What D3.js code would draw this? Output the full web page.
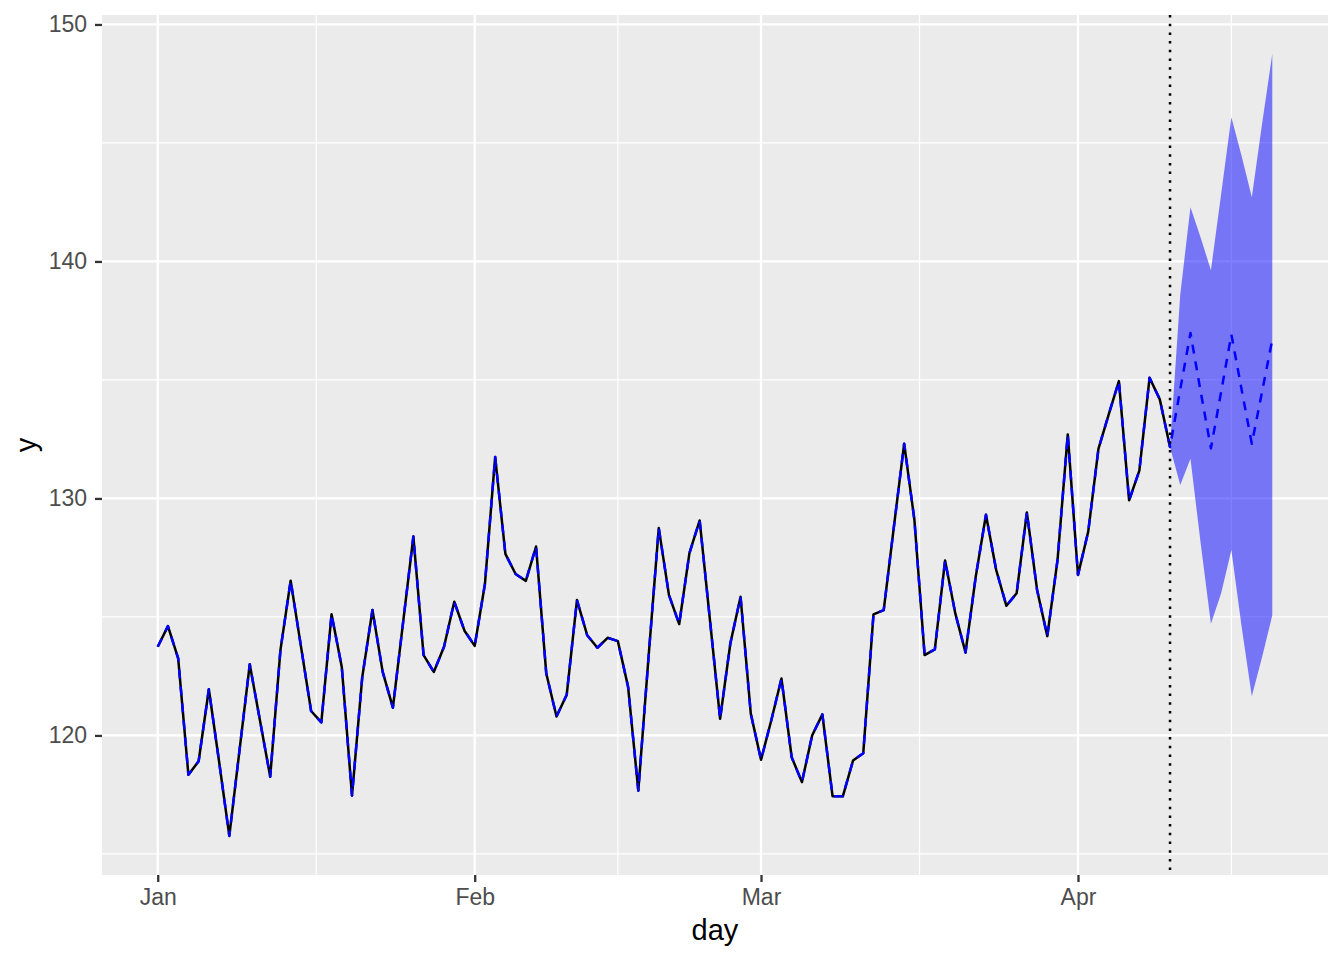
<!DOCTYPE html>
<html><head><meta charset="utf-8">
<script src="https://cdn.jsdelivr.net/npm/d3@7"></script>
<style>body{margin:0;background:#fff}svg{display:block}</style>
</head><body>
<svg id="c" width="1344" height="960"></svg>
<script>
// ---- data ----
const startDate = "2023-01-01";           // first observed day (Jan 1)
const actual = [
 123.74,124.61,123.25,118.34,118.91,121.95,118.90,115.76,119.38,123.00,
 120.63,118.26,123.60,126.53,123.78,121.03,120.55,125.11,122.89,117.46,
 122.45,125.29,122.68,121.17,124.78,128.39,123.39,122.68,123.74,125.64,
 124.42,123.78,126.39,131.75,127.66,126.81,126.52,127.97,122.61,120.80,
 121.72,125.71,124.23,123.70,124.12,123.98,122.05,117.67,123.30,128.75,
 125.92,124.70,127.69,129.07,124.90,120.70,123.88,125.85,120.92,118.97,
 120.63,122.40,119.08,118.03,120.00,120.89,117.43,117.43,118.94,119.25,
 125.11,125.29,128.82,132.31,129.10,123.39,123.63,127.38,125.15,123.50,
 126.70,129.31,126.98,125.47,126.00,129.41,126.14,124.19,127.41,132.70,
 126.77,128.60,132.09,133.54,134.95,129.92,131.17,135.09,134.18,132.17
];
// forecast, Apr 11 .. Apr 20
const forecastMean  = [134.6,136.98,134.5,132.12,134.5,136.92,134.6,132.31,134.5,136.7];
// interval, Apr 10 (last observation) .. Apr 20
const forecastLower = [132.17,130.57,131.67,128.1,124.71,126.0,127.82,124.6,121.65,123.3,125.07];
const forecastUpper = [132.17,138.6,142.29,141.0,139.63,142.85,146.08,144.45,142.71,145.8,148.75];
const monthTicks  = ["2023-01-01","2023-02-01","2023-03-01","2023-04-01"];
const monthLabels = ["Jan","Feb","Mar","Apr"];
const minorXTicks = ["2023-01-16T12:00:00Z","2023-02-15T00:00:00Z","2023-03-16T12:00:00Z","2023-04-16T00:00:00Z"];
const yTicks  = [120,130,140,150];
const yMinor  = [115,125,135,145];
const xTitle = "day", yTitle = "y";

// ---- build ----
const t0 = new Date(startDate + "T00:00:00Z");
const dayOf = i => d3.utcDay.offset(t0, i);
const obs = actual.map((v,i)=>({d:dayOf(i), v}));
const nObs = actual.length;
const fitted = obs.concat(forecastMean.map((v,i)=>({d:dayOf(nObs+i), v})));
const band = forecastLower.map((lo,i)=>({d:dayOf(nObs-1+i), lo, hi:forecastUpper[i]}));

const L=102, R=1328, T=15, B=875;
const xMin = obs[0].d, xMax = fitted[fitted.length-1].d;
const span = xMax - xMin;
const x = d3.scaleUtc().domain([new Date(+xMin - span*0.05), new Date(+xMax + span*0.05)]).range([L,R]);
const allV = actual.concat(forecastMean, forecastLower, forecastUpper);
const [vMin,vMax] = d3.extent(allV);
const vs = vMax - vMin;
const y = d3.scaleLinear().domain([vMin - vs*0.05, vMax + vs*0.05]).range([B,T]);

const svg = d3.select("#c");
const font = "'Liberation Sans', Arial, Helvetica, sans-serif";
svg.append("rect").attr("x",L).attr("y",T).attr("width",R-L).attr("height",B-T).attr("fill","#EBEBEB");
svg.append("defs").append("clipPath").attr("id","clip").append("rect")
  .attr("x",L).attr("y",T).attr("width",R-L).attr("height",B-T);

const grid = svg.append("g");
grid.selectAll(".ymin").data(yMinor).join("line")
  .attr("x1",L).attr("x2",R).attr("y1",d=>y(d)).attr("y2",d=>y(d))
  .attr("stroke","#fff").attr("stroke-width",1.2);
grid.selectAll(".xmin").data(minorXTicks).join("line")
  .attr("y1",T).attr("y2",B).attr("x1",d=>x(new Date(d))).attr("x2",d=>x(new Date(d)))
  .attr("stroke","#fff").attr("stroke-width",1.2);
grid.selectAll(".ymaj").data(yTicks).join("line")
  .attr("x1",L).attr("x2",R).attr("y1",d=>y(d)).attr("y2",d=>y(d))
  .attr("stroke","#fff").attr("stroke-width",2.3);
grid.selectAll(".xmaj").data(monthTicks).join("line")
  .attr("y1",T).attr("y2",B).attr("x1",d=>x(new Date(d+"T00:00:00Z"))).attr("x2",d=>x(new Date(d+"T00:00:00Z")))
  .attr("stroke","#fff").attr("stroke-width",2.3);

const plot = svg.append("g").attr("clip-path","url(#clip)");
plot.append("path").datum(band)
  .attr("d", d3.area().x(d=>x(d.d)).y0(d=>y(d.lo)).y1(d=>y(d.hi)))
  .attr("fill","#0000FF").attr("fill-opacity",0.5);
plot.append("path").datum(obs)
  .attr("d", d3.line().x(d=>x(d.d)).y(d=>y(d.v)))
  .attr("fill","none").attr("stroke","#000").attr("stroke-width",2.5)
  .attr("stroke-linejoin","round");
plot.append("path").datum(fitted)
  .attr("d", d3.line().x(d=>x(d.d)).y(d=>y(d.v)))
  .attr("fill","none").attr("stroke","#0000FF").attr("stroke-width",2.5)
  .attr("stroke-dasharray","9,8").attr("stroke-linejoin","round");
const vx = x(obs[nObs-1].d);
plot.append("line").attr("x1",vx).attr("x2",vx).attr("y1",T).attr("y2",B)
  .attr("stroke","#000").attr("stroke-width",2.5).attr("stroke-dasharray","2.5,6.2");

// axes
const yAxis = svg.append("g").attr("transform",`translate(${L},0)`)
  .call(d3.axisLeft(y).tickValues(yTicks).tickSize(7).tickPadding(8).tickFormat(d3.format("d")));
const xAxis = svg.append("g").attr("transform",`translate(0,${B})`)
  .call(d3.axisBottom(x).tickValues(monthTicks.map(d=>new Date(d+"T00:00:00Z"))).tickSize(7).tickPadding(7)
    .tickFormat((d,i)=>monthLabels[i]));
[yAxis,xAxis].forEach(a=>{
  a.select(".domain").remove();
  a.selectAll(".tick line").attr("stroke","#333333").attr("stroke-width",2.3);
  a.selectAll(".tick text").attr("fill","#4D4D4D").style("font-family",font).style("font-size","23px");
});

svg.append("text").attr("x",(L+R)/2).attr("y",940).attr("text-anchor","middle")
  .style("font-family",font).style("font-size","29px").attr("fill","#000").text(xTitle);
svg.append("text").attr("transform",`translate(36,${(T+B)/2}) rotate(-90)`).attr("text-anchor","middle")
  .style("font-family",font).style("font-size","29px").attr("fill","#000").text(yTitle);
</script>
</body></html>
